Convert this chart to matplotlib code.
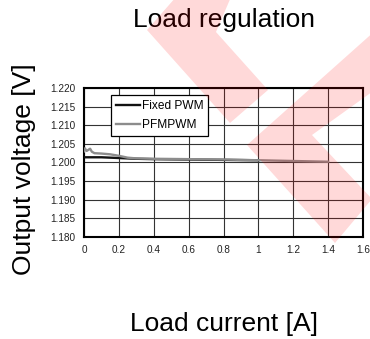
import matplotlib
matplotlib.use("Agg")
import matplotlib.pyplot as plt
from matplotlib.patches import Polygon

plt.rcParams['font.family'] = ['Liberation Sans', 'DejaVu Sans']

# Data
fixed_x = [0.0, 0.05, 0.1, 0.15, 0.2, 0.3, 0.4, 0.6, 0.8, 1.0]
fixed_y = [1.2014, 1.2014, 1.2014, 1.2013, 1.2012, 1.2010, 1.2009, 1.2008, 1.2007, 1.2006]
pfm_x = [0.0, 0.005, 0.015, 0.025, 0.035, 0.045, 0.06, 0.1, 0.15, 0.2, 0.25, 0.3, 0.4, 0.6, 0.8, 1.0, 1.2, 1.4]
pfm_y = [1.2030, 1.2038, 1.2031, 1.2034, 1.2037, 1.2029, 1.2025, 1.2024, 1.2022, 1.2018, 1.2013, 1.2011, 1.2010, 1.2009, 1.2008, 1.2006, 1.2004, 1.2002]
xticks = [0, 0.2, 0.4, 0.6, 0.8, 1, 1.2, 1.4, 1.6]
xtick_labels = ['0', '0.2', '0.4', '0.6', '0.8', '1', '1.2', '1.4', '1.6']
yticks = [1.180, 1.185, 1.190, 1.195, 1.200, 1.205, 1.210, 1.215, 1.220]
ytick_labels = ['%.3f' % v for v in yticks]

W, H = 370, 339
fig = plt.figure(figsize=(W / 100, H / 100), dpi=100)
ax = fig.add_axes([84 / W, 1 - 237 / H, (363 - 84) / W, (237 - 88) / H])

ax.plot(fixed_x, fixed_y, color='#111111', lw=1.7, label='Fixed PWM', zorder=3)
ax.plot(pfm_x, pfm_y, color='#8c8c8c', lw=1.7, label='PFMPWM', zorder=4)

ax.set_xlim(0, 1.6)
ax.set_ylim(1.180, 1.220)
ax.set_xticks(xticks)
ax.set_xticklabels(xtick_labels)
ax.set_yticks(yticks)
ax.set_yticklabels(ytick_labels)
ax.tick_params(length=0, labelsize=7.2, pad=6, labelcolor='#222222')
ax.grid(True, color='#333333', lw=0.8)
ax.set_axisbelow(True)
for s in ax.spines.values():
    s.set_linewidth(1.5)
    s.set_color('black')

leg = ax.legend(loc='upper left', bbox_to_anchor=(111 / W, 1 - 95 / H),
                bbox_transform=fig.transFigure, fontsize=8.6, frameon=True,
                fancybox=False, handlelength=2.0, handletextpad=0.2,
                borderpad=0.4, labelspacing=0.6, borderaxespad=0)
leg.get_frame().set_edgecolor('black')
leg.get_frame().set_linewidth(0.9)
leg.get_frame().set_alpha(1)

fig.text(224 / W, 1 - 20 / H, 'Load regulation', ha='center', va='center', fontsize=19)
fig.text(224 / W, 1 - 324 / H, 'Load current [A]', ha='center', va='center', fontsize=19)
fig.text(24 / W, 1 - 169 / H, 'Output voltage [V]', ha='center', va='center',
         rotation=90, fontsize=19)

# Watermark decoration (figure pixel coordinates, y down)
def to_fig(pts):
    return [(x / W, 1 - y / H) for x, y in pts]
band1 = [(176, -3), (147, 30), (230, 123), (268, 90), (216, 32), (231, -3)]
chev = [(450, -36), (247, 145), (335, 243), (372, 199), (312, 135), (450, 36)]
for poly in (band1, chev):
    fig.patches.append(Polygon(to_fig(poly), closed=True, transform=fig.transFigure,
                               facecolor='red', alpha=0.15, edgecolor='none', zorder=10))

fig.savefig('out.png', dpi=100)
